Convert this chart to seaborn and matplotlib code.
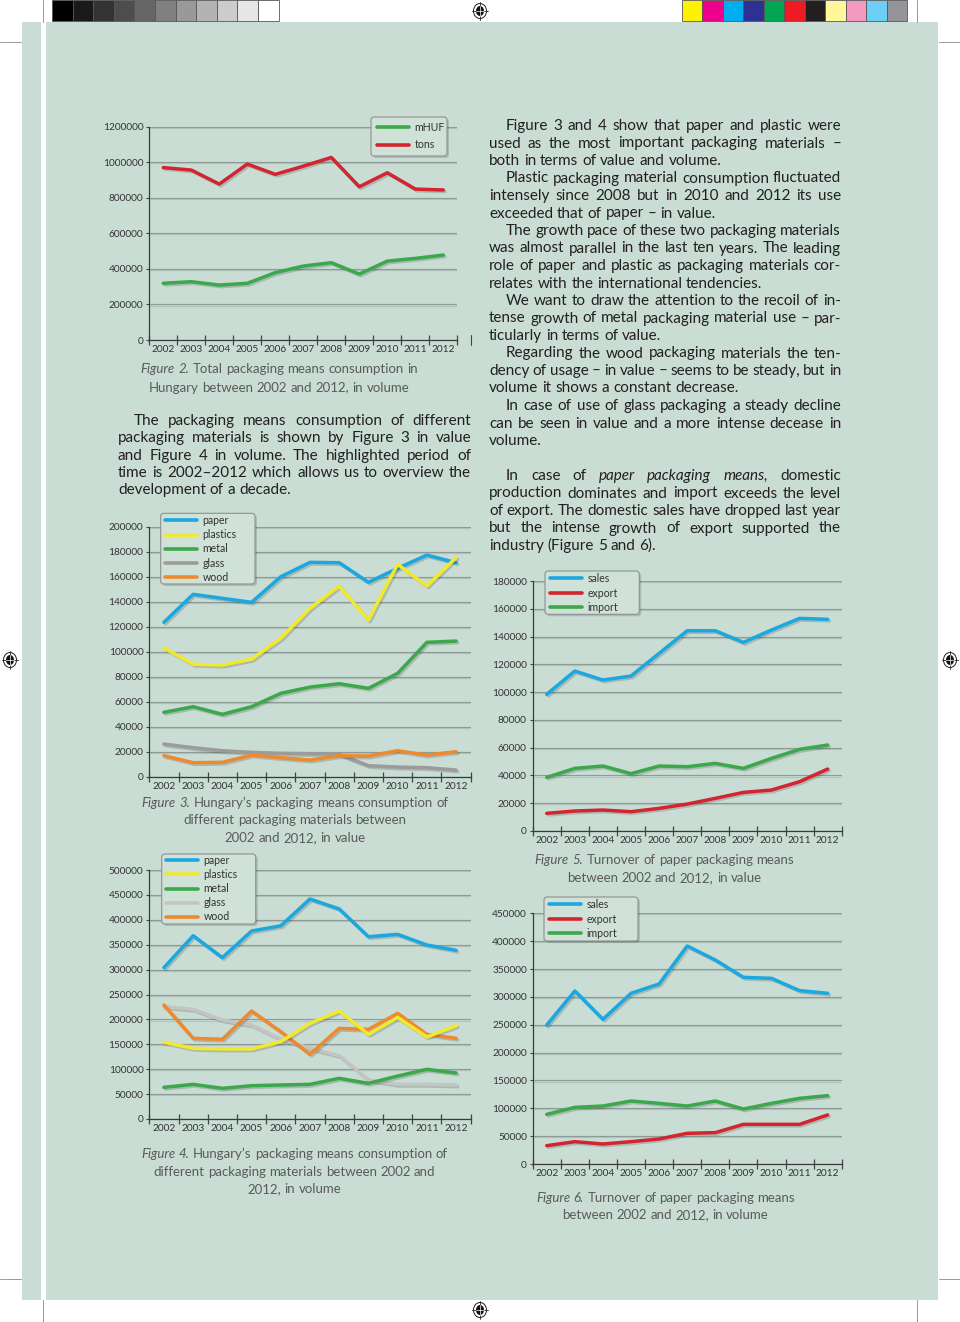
import numpy as np
import pandas as pd
import matplotlib
matplotlib.use("Agg")
import matplotlib.pyplot as plt
import matplotlib.patheffects as pe
from matplotlib.lines import Line2D
from matplotlib.patches import Rectangle, Ellipse, FancyBboxPatch
import seaborn as sns

W, H = 960, 1322

years = [str(y) for y in range(2002, 2013)]

# Figure 2 - total consumption, in volume
fig2_mhuf = [319000, 328000, 309000, 319000, 379000, 416000, 435000, 371000, 444000, 459000, 478000]
fig2_tons = [970000, 956000, 877000, 990000, 932000, 978000, 1027000, 862000, 941000, 849000, 844000]

# Figure 3 - materials, in value
fig3_paper = [123500, 145900, 142700, 139500, 160000, 171500, 171200, 155500, 166700, 177300, 171200]
fig3_plastics = [103000, 90000, 89300, 94000, 110700, 134700, 152500, 125300, 169900, 152500, 175200]
fig3_metal = [51500, 56000, 49900, 56000, 66700, 71700, 74400, 70700, 82700, 107500, 108500]
fig3_glass = [26100, 23200, 20800, 19500, 18700, 18400, 17900, 8800, 7700, 7200, 5300]
fig3_wood = [16800, 11200, 11500, 17300, 15200, 13300, 16800, 16500, 20800, 17300, 20000]

# Figure 4 - materials, in volume
fig4_paper = [303900, 368000, 324000, 377500, 388000, 441800, 421700, 366000, 370800, 349400, 338700]
fig4_plastics = [154000, 141900, 140600, 140600, 155300, 192000, 216900, 170000, 204000, 164700, 187400]
fig4_metal = [63600, 69600, 61600, 66900, 68300, 69600, 81700, 71600, 86300, 99700, 92400]
fig4_glass = [225600, 220200, 198800, 188800, 160600, 141900, 127200, 78300, 69600, 69600, 68300]
fig4_wood = [228900, 162000, 160000, 216900, 175400, 129900, 182000, 180000, 212200, 170000, 162000]

# Figure 5 - paper packaging turnover, in value
fig5_sales = [98400, 115200, 108700, 111600, 127900, 144200, 144200, 135800, 144700, 153100, 152400]
fig5_export = [12700, 14400, 15100, 13900, 16300, 19400, 23500, 27800, 29500, 35500, 44600]
fig5_import = [38600, 45100, 46800, 41300, 46800, 46300, 48700, 45100, 52300, 58800, 61900]

# Figure 6 - paper packaging turnover, in volume
fig6_sales = [249500, 310600, 259700, 306400, 323200, 391400, 366200, 335100, 333300, 311200, 306400]
fig6_export = [32900, 40100, 35900, 40100, 44900, 55100, 56300, 71200, 71200, 71200, 88000]
fig6_import = [89200, 101700, 104100, 113100, 108900, 104100, 113100, 98700, 108900, 117900, 122700]

materials = ["paper", "plastics", "metal", "glass", "wood"]
turnover = ["sales", "export", "import"]

left_par = ["The packaging means consumption of different",
            "packaging materials is shown by Figure 3 in value",
            "and Figure 4 in volume. The highlighted period of",
            "time is 2002–2012 which allows us to overview the",
            "development of a decade."]

right_pars = [
    ["Figure 3 and 4 show that paper and plastic were",
     "used as the most important packaging materials –",
     "both in terms of value and volume."],
    ["Plastic packaging material consumption fluctuated",
     "intensely since 2008 but in 2010 and 2012 its use",
     "exceeded that of paper – in value."],
    ["The growth pace of these two packaging materials",
     "was almost parallel in the last ten years. The leading",
     "role of paper and plastic as packaging materials cor-",
     "relates with the international tendencies."],
    ["We want to draw the attention to the recoil of in-",
     "tense growth of metal packaging material use – par-",
     "ticularly in terms of value."],
    ["Regarding the wood packaging materials the ten-",
     "dency of usage – in value – seems to be steady, but in",
     "volume it shows a constant decrease."],
    ["In case of use of glass packaging a steady decline",
     "can be seen in value and a more intense decease in",
     "volume."],
    None,
    ["In case of _paper packaging means,_ domestic",
     "production dominates and import exceeds the level",
     "of export. The domestic sales have dropped last year",
     "but the intense growth of export supported the",
     "industry (Figure 5 and 6)."],
]

cap2 = ["_Figure 2._ Total packaging means consumption in",
        "Hungary between 2002 and 2012, in volume"]
cap3 = ["_Figure 3._ Hungary’s packaging means consumption of",
        "different packaging materials between",
        "2002 and 2012, in value"]
cap4 = ["_Figure 4._ Hungary’s packaging means consumption of",
        "different packaging materials between 2002 and",
        "2012, in volume"]
cap5 = ["_Figure 5._ Turnover of paper packaging means",
        "between 2002 and 2012, in value"]
cap6 = ["_Figure 6._ Turnover of paper packaging means",
        "between 2002 and 2012, in volume"]

blue, yellow, green, orange, red = "#1ba7e0", "#f1e92e", "#3ba84b", "#ef892d", "#d3252f"

sns.set_theme(style="white")
plt.rcParams['font.family'] = ['Lato', 'DejaVu Sans']

fig = plt.figure(figsize=(W / 100, H / 100), dpi=100)
fig.patch.set_facecolor("white")
bg = fig.add_axes([0, 0, 1, 1])
bg.set_xlim(0, W)
bg.set_ylim(H, 0)
bg.axis("off")
renderer = fig.canvas.get_renderer()

# page: panel, colour bars, crop and registration marks
bg.add_patch(Rectangle((21.5, 21.5), 916.5, 1278.5, color="#c9ddd4", lw=0))
bg.add_patch(Rectangle((40.5, 21.5), 5.5, 1278.5, color="white", lw=0))
greys = ["#000000", "#1a1a1a", "#333333", "#4d4d4d", "#666666", "#808080",
         "#999999", "#b3b3b3", "#cccccc", "#e6e6e6", "#ffffff"]
procs = ["#fff200", "#ec008c", "#00aeef", "#2e3192", "#00a651", "#ed1c24",
         "#231f20", "#fff799", "#f49ac1", "#6dcff6", "#939598"]
for i, c in enumerate(greys):
    bg.add_patch(Rectangle((52 + i * 20.6, 0), 20.6, 21, fc=c, ec="#555555", lw=0.6))
for i, c in enumerate(procs):
    bg.add_patch(Rectangle((681.6 + i * 20.5, 0), 20.5, 21, fc=c, ec="#555555", lw=0.6))
for x in (43, 917):
    bg.plot([x, x], [0, 22], color="#999999", lw=0.7)
    bg.plot([x, x], [1300, 1322], color="#999999", lw=0.7)
for y in (42, 1279):
    bg.plot([0, 21], [y, y], color="#999999", lw=0.7)
    bg.plot([939, 960], [y, y], color="#999999", lw=0.7)


def reg_mark(x, y):
    bg.add_patch(Ellipse((x, y), 13, 15, fc="white", ec="#222222", lw=0.7))
    bg.add_patch(Ellipse((x, y), 8, 10, fc="#111111", ec="none"))
    bg.plot([x - 8, x + 8], [y, y], color="#222222", lw=0.6)
    bg.plot([x, x], [y - 9, y + 9], color="#222222", lw=0.6)
    bg.plot([x - 4, x + 4], [y, y], color="white", lw=0.5)
    bg.plot([x, x], [y - 5, y + 5], color="white", lw=0.5)


for x, y in [(480, 11), (480, 1310), (10, 660), (950, 660)]:
    reg_mark(x, y)

line_fx = [pe.SimpleLineShadow(offset=(1.2, -1.2), alpha=0.18), pe.Normal()]


def chart(rect, series, colors, draw_order, legend_order, yticks, box, anchor, spacing):
    l, t, r, b = rect
    ax = fig.add_axes([l / W, 1 - b / H, (r - l) / W, (b - t) / H])
    ax.set_facecolor("none")
    df = pd.DataFrame([(i, v, name) for name in draw_order for i, v in enumerate(series[name])],
                      columns=["pos", "value", "series"])
    sns.lineplot(data=df, x="pos", y="value", hue="series", hue_order=draw_order,
                 palette=colors, linewidth=2.5, legend=False, ax=ax, path_effects=line_fx)
    ax.set(xlabel="", ylabel="")
    ax.set_xlim(-0.5, 10.5)
    ax.set_ylim(0, yticks[-1])
    ax.set_yticks(yticks, labels=[str(v) for v in yticks])
    ax.set_xticks(range(11), labels=years)
    ax.set_xticks(np.arange(-0.5, 11), minor=True)
    ax.tick_params(axis="x", which="major", bottom=True, length=0, pad=3.5, labelsize=7.3,
                   labelcolor="#333333")
    ax.tick_params(axis="x", which="minor", bottom=True, length=7, width=0.9,
                   direction="inout", color="#444444")
    ax.tick_params(axis="y", left=True, length=2.2, width=0.8, pad=2, labelsize=7.3,
                   color="#444444", labelcolor="#333333")
    ax.set_axisbelow(True)
    ax.grid(True, axis="y", color="#8e9b96", lw=0.85)
    ax.grid(False, axis="x")
    for gl in ax.get_ygridlines():
        gl.set_path_effects([pe.SimpleLineShadow(offset=(0.8, -0.8), alpha=0.12), pe.Normal()])
    for s in ("top", "right"):
        ax.spines[s].set_visible(False)
    for s in ("left", "bottom"):
        ax.spines[s].set_color("#3a3a3a")
        ax.spines[s].set_linewidth(0.9)

    x0, y0, x1, y1 = box
    ax.add_patch(FancyBboxPatch((x0 + 2, y0 + 2), x1 - x0, y1 - y0,
                                boxstyle="round,pad=0,rounding_size=3", fc="black", ec="none",
                                alpha=0.15, transform=bg.transData, zorder=4.8, clip_on=False))
    ax.add_patch(FancyBboxPatch((x0, y0), x1 - x0, y1 - y0,
                                boxstyle="round,pad=0,rounding_size=3", fc="#d0e1d8", ec="#8f8f8f",
                                lw=0.8, transform=bg.transData, zorder=4.9, clip_on=False))
    handles = [Line2D([], [], color=colors[n], lw=2.6) for n in legend_order]
    leg = ax.legend(handles, legend_order, loc="upper left",
                    bbox_to_anchor=(anchor[0] / W, 1 - anchor[1] / H), bbox_transform=fig.transFigure,
                    borderaxespad=0, borderpad=0.2, frameon=False, fontsize=7.6,
                    handlelength=3.0, handletextpad=0.55, labelspacing=spacing)
    leg.set_zorder(6)
    for txt in leg.get_texts():
        txt.set_color("#333333")
    return ax


chart((149.3, 126.7, 457.3, 340), {"mHUF": fig2_mhuf, "tons": fig2_tons},
      {"mHUF": green, "tons": red}, ["mHUF", "tons"], ["mHUF", "tons"],
      list(range(0, 1200001, 200000)), (371, 117, 447, 156), (375, 120), 0.58)

chart((149.3, 526.7, 470.7, 776.7),
      dict(zip(materials, [fig3_paper, fig3_plastics, fig3_metal, fig3_glass, fig3_wood])),
      {"paper": blue, "plastics": yellow, "metal": green, "glass": "#9b9b9b", "wood": orange},
      ["glass", "wood", "metal", "paper", "plastics"], materials,
      list(range(0, 200001, 20000)), (160.7, 513.3, 255, 584), (163, 513), 0.3)

chart((149.3, 870, 470.7, 1119),
      dict(zip(materials, [fig4_paper, fig4_plastics, fig4_metal, fig4_glass, fig4_wood])),
      {"paper": blue, "plastics": yellow, "metal": green, "glass": "#c4c4c4", "wood": orange},
      ["glass", "metal", "wood", "plastics", "paper"], materials,
      list(range(0, 500001, 50000)), (161.7, 854, 255.7, 924), (164, 853), 0.29)

chart((532.7, 581, 841.7, 831),
      dict(zip(turnover, [fig5_sales, fig5_export, fig5_import])),
      {"sales": blue, "export": red, "import": green}, turnover, turnover,
      list(range(0, 180001, 20000)), (545, 571, 639.3, 614.3), (548, 571), 0.33)

chart((532.7, 913.3, 841.7, 1164),
      dict(zip(turnover, [fig6_sales, fig6_export, fig6_import])),
      {"sales": blue, "export": red, "import": green}, turnover, turnover,
      list(range(0, 450001, 50000)), (544, 897, 638, 941), (547.3, 897), 0.33)

bg.plot([471, 471], [335, 345], color="#444444", lw=0.8)


# text layout helpers
def width_of(s, **kw):
    t = bg.text(0, 0, s, **kw)
    w = t.get_window_extent(renderer).width
    t.remove()
    return w


def parse(line):
    out, it = [], False
    for tok in line.split():
        if tok.startswith("_"):
            it, tok = True, tok[1:]
        end = tok.endswith("_")
        if end:
            tok = tok[:-1]
        out.append((tok, it))
        if end:
            it = False
    return out


def put_line(text, x, y, size, align="left", width=None, color="#231f20"):
    words = parse(text)
    objs = [bg.text(0, y, w, fontsize=size, style="italic" if it else "normal",
                    color=color, va="baseline", ha="left") for w, it in words]
    widths = [o.get_window_extent(renderer).width for o in objs]
    gap = width_of("a a", fontsize=size) - width_of("aa", fontsize=size)
    if align == "justify" and len(objs) > 1:
        gap = (width - sum(widths)) / (len(objs) - 1)
    total = sum(widths) + gap * (len(objs) - 1)
    pos = x - total / 2 if align == "center" else x
    for o, w in zip(objs, widths):
        o.set_x(pos)
        pos += w + gap


body_size = 10 * 346 / width_of("was almost parallel in the last ten years. The leading", fontsize=10)
cap_size = 10 * 262 / width_of("Hungary between 2002 and 2012, in volume", fontsize=10)


def paragraph(lines, x0, x1, y, indent, pitch):
    for k, ln in enumerate(lines):
        xs = x0 + (indent if k == 0 else 0)
        last = k == len(lines) - 1
        put_line(ln, xs, y + k * pitch, body_size, align="left" if last else "justify", width=x1 - xs)


paragraph(left_par, 118, 471, 425, 16, 17.3)

row = 0
for par in right_pars:
    if par is None:
        row += 1
        continue
    paragraph(par, 489, 841, 130 + row * 17.5, 17, 17.5)
    row += len(par)

for lines, cx, ys in [(cap2, 279, [373, 391.5]),
                      (cap3, 295, [806.7, 824.3, 842.2]),
                      (cap4, 294.5, [1158.3, 1175.7, 1192.8]),
                      (cap5, 664.5, [864, 882]),
                      (cap6, 665.5, [1201.5, 1219.3])]:
    for ln, y in zip(lines, ys):
        put_line(ln, cx, y, cap_size, align="center", color="#5a5a5a")

fig.savefig("out.png", dpi=100)
